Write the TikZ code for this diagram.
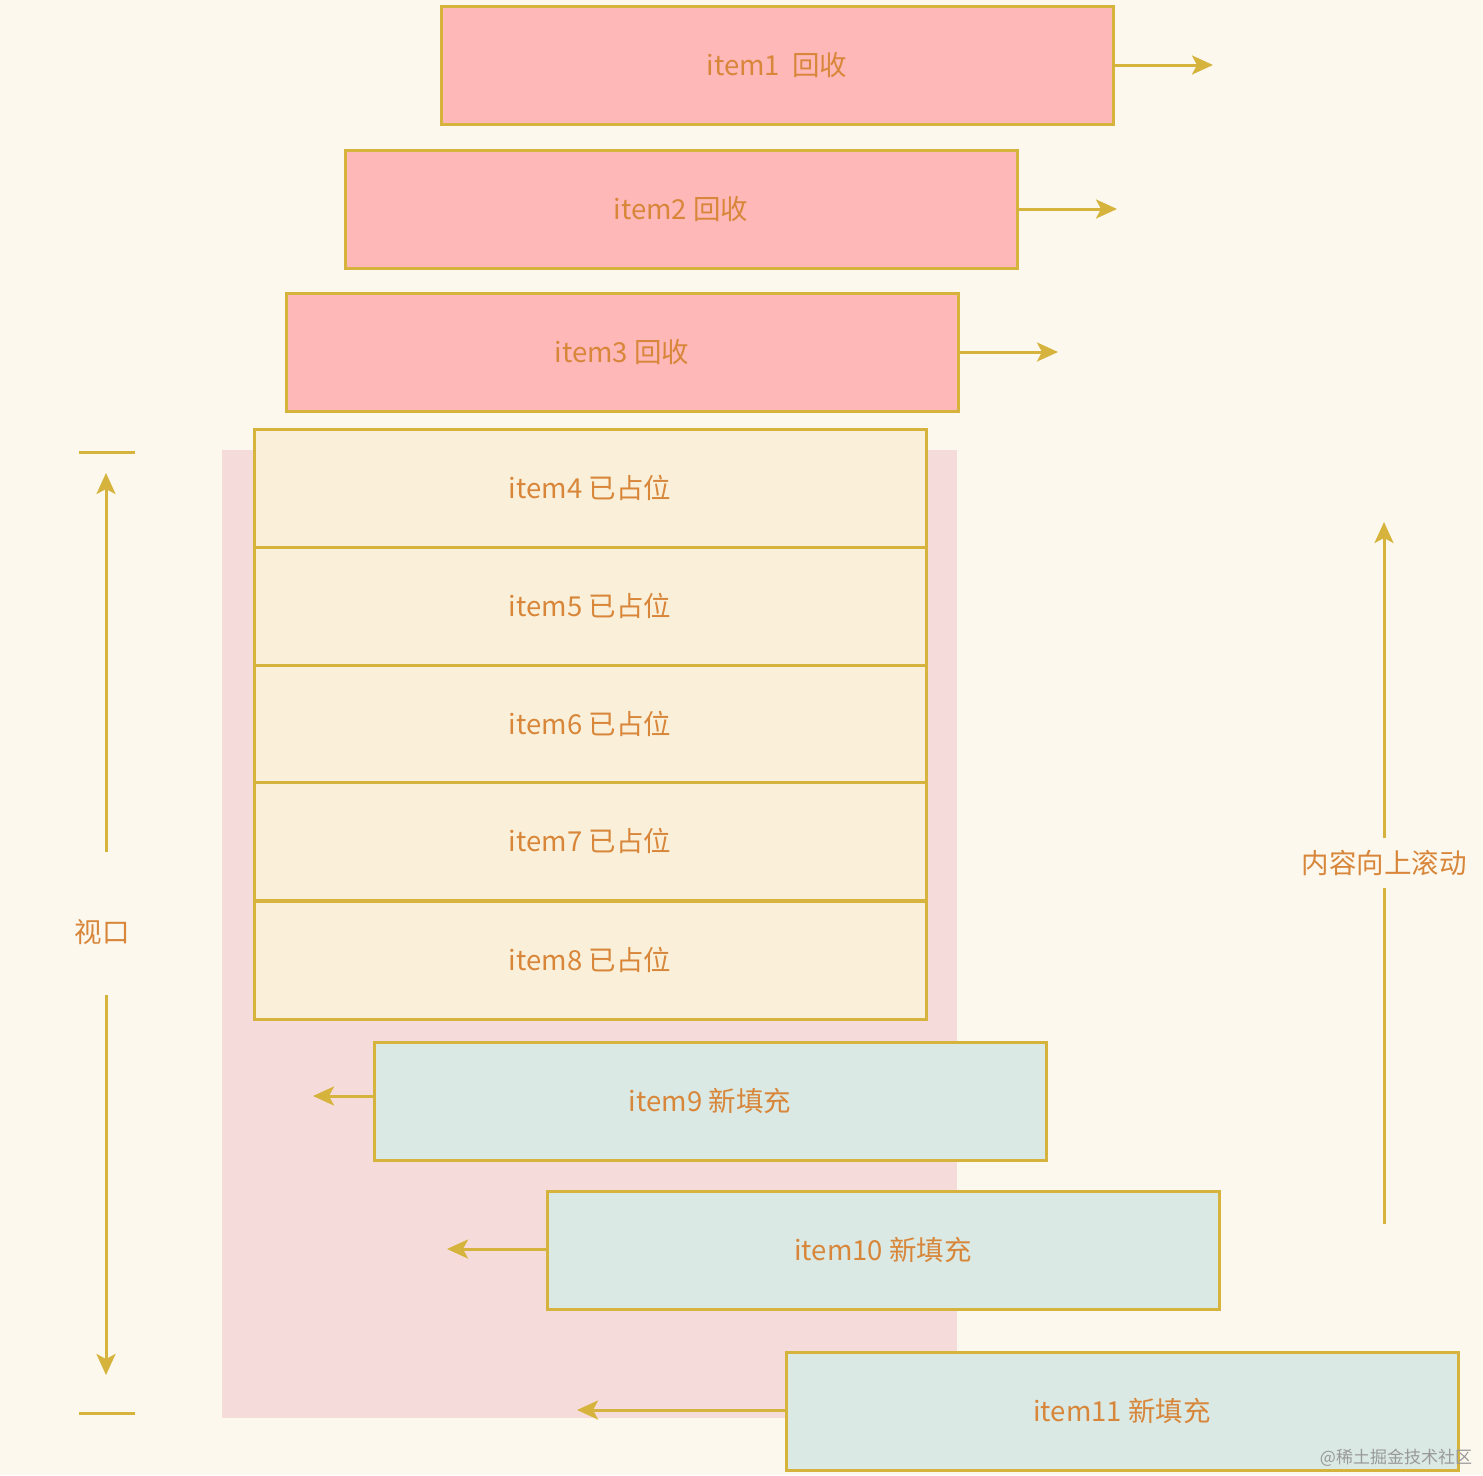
\documentclass[tikz,border=0pt]{standalone}
\usepackage{fontspec}
\newfontfamily\cjk{Noto Sans CJK SC}
\usetikzlibrary{arrows.meta}
\definecolor{bg}{HTML}{FCF8EE}
\definecolor{gold}{HTML}{D6B33C}
\definecolor{txt}{HTML}{D8863A}
\definecolor{recyc}{HTML}{FFB8B8}
\definecolor{held}{HTML}{FAF0D9}
\definecolor{fresh}{HTML}{DAE9E3}
\definecolor{port}{HTML}{F5DCDA}
\begin{document}
\begin{tikzpicture}[x=1pt, y=-1pt,
        item/.style={draw=gold, line width=3pt, minimum width=672pt,
                     minimum height=118pt, inner sep=0pt, text=txt,
                     font=\cjk\fontsize{27.5}{30}\selectfont},
        recbox/.style={item, fill=recyc},
        heldbox/.style={item, fill=held},
        newbox/.style={item, fill=fresh},
        lbl/.style={text=txt, font=\cjk\fontsize{27.5}{30}\selectfont},
        arr/.style={-{Stealth[length=21pt, width=19pt, inset=5pt]}, gold, line width=3pt},
        bar/.style={gold, line width=3pt},
    ]
        \useasboundingbox[fill=bg] (0,0) rectangle (1483,1475);

        % viewport
        \fill[port] (222,450) rectangle (957,1418);

        % recycled items
        \node[recbox] (item1) at (777,65) {item1\ \ 回收};
        \node[recbox] (item2) at (681,209) {item2 回收};
        \node[recbox] (item3) at (622,352) {item3 回收};
        \coordinate (item1-out) at (1213,65);
        \coordinate (item2-out) at (1117,209);
        \coordinate (item3-out) at (1058,352);
        \draw[arr] (item1.east) -- (item1-out);
        \draw[arr] (item2.east) -- (item2-out);
        \draw[arr] (item3.east) -- (item3-out);

        % items in view
        \node[heldbox] (item4) at (590,488) {item4 已占位};
        \node[heldbox] (item5) at (590,606) {item5 已占位};
        \node[heldbox] (item6) at (590,724) {item6 已占位};
        \node[heldbox] (item7) at (590,841) {item7 已占位};
        \node[heldbox] (item8) at (590,960) {item8 已占位};

        % refilled items
        \node[newbox] (item9) at (710,1101) {item9 新填充};
        \node[newbox] (item10) at (883,1250) {item10 新填充};
        \node[newbox] (item11) at (1122,1411) {item11 新填充};
        \coordinate (item9-in) at (313,1096);
        \coordinate (item10-in) at (447,1249);
        \coordinate (item11-in) at (577,1410);
        \draw[arr] (item9-in -| item9.west) -- (item9-in);
        \draw[arr] (item10-in -| item10.west) -- (item10-in);
        \draw[arr] (item11-in -| item11.west) -- (item11-in);

        % viewport size
        \node[lbl] (vp) at (102,932) {视口};
        \coordinate (vp-tl) at (79,452);
        \coordinate (vp-tr) at (135,452);
        \coordinate (vp-bl) at (79,1413);
        \coordinate (vp-br) at (135,1413);
        \coordinate (vp-up-a) at (106,852);
        \coordinate (vp-up-b) at (106,473);
        \coordinate (vp-dn-a) at (106,995);
        \coordinate (vp-dn-b) at (106,1375);
        \draw[bar] (vp-tl) -- (vp-tr);
        \draw[bar] (vp-bl) -- (vp-br);
        \draw[arr] (vp-up-a) -- (vp-up-b);
        \draw[arr] (vp-dn-a) -- (vp-dn-b);

        % scroll direction
        \node[lbl, inner sep=12pt] (scroll) at (1384,863) {内容向上滚动};
        \coordinate (scroll-a) at (1384,1224);
        \coordinate (scroll-b) at (1384,522);
        \draw[bar] (scroll-a) -- (scroll.south);
        \draw[arr] (scroll.north) -- (scroll-b);

        \node[font=\cjk\fontsize{17}{20}\selectfont, text=gray!80] (mark) at (1396,1458) {@稀土掘金技术社区};
    \end{tikzpicture}
\end{document}
